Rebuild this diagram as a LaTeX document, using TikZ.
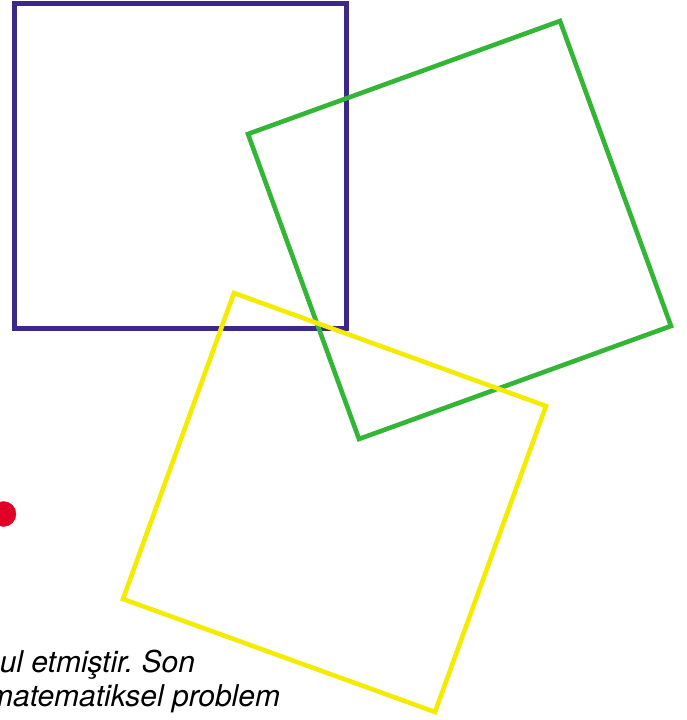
\documentclass[tikz,border=0pt]{standalone}
\usepackage{fontspec}
\setmainfont{TeX Gyre Heros}
\usetikzlibrary{positioning}
\definecolor{boxpurple}{RGB}{59,40,135}
\definecolor{boxgreen}{RGB}{51,181,53}
\definecolor{boxyellow}{RGB}{245,235,0}
\definecolor{dotred}{RGB}{224,0,40}
\tikzset{frame/.style={line width=4.6pt, line join=miter},
  caption/.style={anchor=base east, font=\itshape\fontsize{30}{34}\selectfont}}
\frenchspacing

\begin{document}
\begin{tikzpicture}[x=1pt, y=-1pt, inner sep=0pt, outer sep=0pt]
\useasboundingbox (0, 0) rectangle (687, 720);
\draw[frame, boxpurple] (14.3, 3.2) -- (346.3, 3.2) -- (346.3, 328.5) -- (14.3, 328.5) -- cycle;
\draw[frame, boxgreen] (248, 134) -- (560, 21) -- (671, 326) -- (359, 439) -- cycle;
\draw[frame, boxyellow] (234, 293) -- (546, 406) -- (435, 712) -- (123, 599) -- cycle;
\filldraw[dotred] (3.5, 514) circle (12.5);
\node[caption] (lineone) at (195, 672) {ul etmiştir. Son};
\node[caption] (linetwo) at (280, 706) {matematiksel problem};
\end{tikzpicture}
\end{document}
